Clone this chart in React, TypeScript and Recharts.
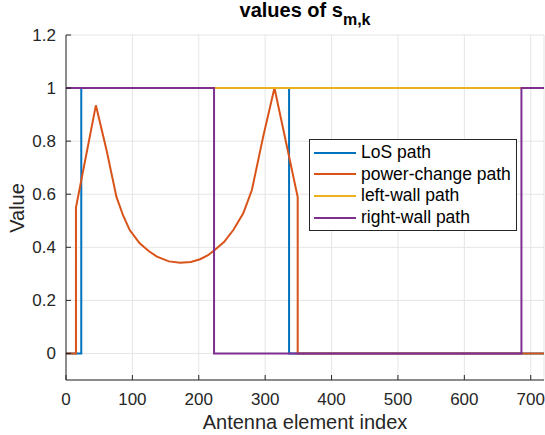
import { LineChart, Line, XAxis, YAxis, CartesianGrid } from 'recharts';

// antenna index / value pairs
const losIndex = [0, 23, 23, 336, 336, 720];
const losValue = [0, 0, 1, 1, 0, 0];

const powerIndex = [
  0, 15, 15, 45, 61, 76, 86, 96, 111, 125, 137, 155, 172, 188, 202, 214, 224, 238, 252, 267, 280, 297,
  314, 349, 349, 720,
];
const powerValue = [
  0, 0, 0.55, 0.935, 0.767, 0.59, 0.52, 0.465, 0.415, 0.385, 0.365, 0.347, 0.342, 0.345, 0.355, 0.37,
  0.39, 0.42, 0.465, 0.528, 0.616, 0.817, 1.0, 0.589, 0, 0,
];

const leftWallIndex = [0, 720];
const leftWallValue = [1, 1];

const rightWallIndex = [0, 223, 223, 686, 686, 720];
const rightWallValue = [1, 1, 0, 0, 1, 1];

const xTicks = [0, 100, 200, 300, 400, 500, 600, 700];
const yTicks = [0, 0.2, 0.4, 0.6, 0.8, 1, 1.2];

const toPoints = (xs: number[], ys: number[]) => xs.map((x, i) => ({ x, y: ys[i] }));

const series = [
  { name: 'LoS path', color: '#0072BD', data: toPoints(losIndex, losValue) },
  { name: 'power-change path', color: '#D95319', data: toPoints(powerIndex, powerValue) },
  { name: 'left-wall path', color: '#EDB120', data: toPoints(leftWallIndex, leftWallValue) },
  { name: 'right-wall path', color: '#7E2F8E', data: toPoints(rightWallIndex, rightWallValue) },
];

const FONT = '"Liberation Sans", Arial, Helvetica, sans-serif';
const AXIS = '#262626';
const TICK_LEN = 5;

function BottomTick({ x, y, payload }: any) {
  return (
    <g>
      <line x1={x} y1={y} x2={x} y2={y - TICK_LEN} stroke={AXIS} />
      <text x={x} y={y + 25} textAnchor="middle" fontSize={17} fill={AXIS} fontFamily={FONT}>
        {payload.value}
      </text>
    </g>
  );
}

function TopTick({ x, y }: any) {
  return <line x1={x} y1={y} x2={x} y2={y + TICK_LEN} stroke={AXIS} />;
}

function LeftTick({ x, y, payload }: any) {
  return (
    <g>
      <line x1={x} y1={y} x2={x + TICK_LEN} y2={y} stroke={AXIS} />
      <text x={x - 10} y={y + 6} textAnchor="end" fontSize={17} fill={AXIS} fontFamily={FONT}>
        {Number(payload.value.toFixed(1)).toString()}
      </text>
    </g>
  );
}

function RightTick({ x, y }: any) {
  return <line x1={x} y1={y} x2={x - TICK_LEN} y2={y} stroke={AXIS} />;
}

export default function App() {
  return (
    <div style={{ position: 'absolute', left: 0, top: 0, width: 545, height: 435, background: '#fff' }}>
      <LineChart width={545} height={435} margin={{ top: 35, right: 1, bottom: 0, left: 0 }}>
        <CartesianGrid stroke="#e5e5e5" />
        <XAxis
          dataKey="x"
          type="number"
          domain={[0, 720]}
          ticks={xTicks}
          allowDataOverflow
          height={55}
          tickSize={0}
          tickMargin={0}
          tickLine={false}
          axisLine={{ stroke: AXIS }}
          tick={<BottomTick />}
          interval={0}
        />
        <XAxis
          xAxisId="top"
          orientation="top"
          type="number"
          domain={[0, 720]}
          ticks={xTicks}
          height={0}
          tickSize={0}
          tickMargin={0}
          tickLine={false}
          axisLine={{ stroke: AXIS }}
          tick={<TopTick />}
          interval={0}
        />
        <YAxis
          type="number"
          domain={[-0.1, 1.2]}
          ticks={yTicks}
          allowDataOverflow
          width={66}
          tickSize={0}
          tickMargin={0}
          tickLine={false}
          axisLine={{ stroke: AXIS }}
          tick={<LeftTick />}
          interval={0}
        />
        <YAxis
          yAxisId="right"
          orientation="right"
          type="number"
          domain={[-0.1, 1.2]}
          ticks={yTicks}
          width={0}
          tickSize={0}
          tickMargin={0}
          tickLine={false}
          axisLine={{ stroke: AXIS }}
          tick={<RightTick />}
          interval={0}
        />
        {series.map((s) => (
          <Line
            key={s.name}
            data={s.data}
            dataKey="y"
            name={s.name}
            type="linear"
            stroke={s.color}
            strokeWidth={2}
            dot={false}
            isAnimationActive={false}
          />
        ))}
      </LineChart>

      <svg
        width={545}
        height={435}
        style={{ position: 'absolute', left: 0, top: 0, pointerEvents: 'none' }}
      >
        <text x={305} y={17} textAnchor="middle" fontFamily={FONT} fontWeight="bold" fontSize={20} fill="#000">
          values of s
          <tspan fontSize={16} dy={8}>
            m,k
          </tspan>
        </text>
        <text x={305} y={429} textAnchor="middle" fontFamily={FONT} fontSize={20} fill={AXIS}>
          Antenna element index
        </text>
        <text
          x={0}
          y={0}
          transform="translate(24 208) rotate(-90)"
          textAnchor="middle"
          fontFamily={FONT}
          fontSize={20}
          fill={AXIS}
        >
          Value
        </text>
      </svg>

      <div
        style={{
          position: 'absolute',
          left: 309,
          top: 139,
          width: 206,
          height: 90,
          border: '1px solid #262626',
          background: '#fff',
          fontFamily: FONT,
          fontSize: 17.5,
          color: '#000',
          boxSizing: 'content-box',
        }}
      >
        {series.map((s, i) => (
          <div
            key={s.name}
            style={{
              position: 'absolute',
              left: 4,
              top: 2 + i * 21.7,
              height: 21,
              display: 'flex',
              alignItems: 'center',
              whiteSpace: 'nowrap',
            }}
          >
            <span style={{ display: 'inline-block', width: 42, height: 2, background: s.color }} />
            <span style={{ marginLeft: 5 }}>{s.name}</span>
          </div>
        ))}
      </div>
    </div>
  );
}
